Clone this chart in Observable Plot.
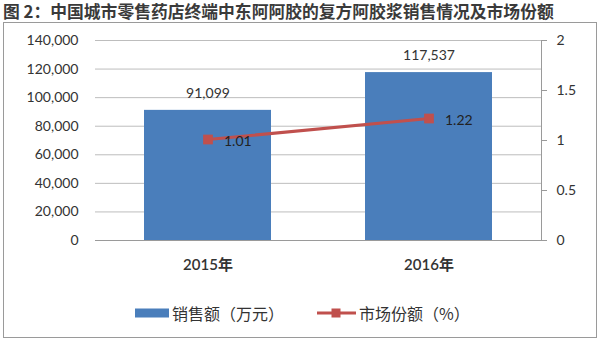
<!DOCTYPE html>
<html>
<head>
<meta charset="utf-8">
<script src="https://cdn.jsdelivr.net/npm/d3@7"></script>
<script src="https://cdn.jsdelivr.net/npm/@observablehq/plot@0.6"></script>
<style>
  html, body { margin: 0; padding: 0; background: #fff; }
  #wrap { position: relative; width: 600px; height: 343px; background: #fff; overflow: hidden; }
  #title { position: absolute; left: 3px; top: 1px; font: bold 16.8px "Noto Sans CJK SC", sans-serif; color: #3a3a3a; line-height: 20px; white-space: nowrap; }
  #box { position: absolute; left: 3px; top: 22px; width: 592px; height: 314px; border: 1px solid #9a9a9a; }
  #chart { position: absolute; left: 0; top: 0; }
  #legend { position: absolute; top: 301px; left: 0; width: 600px; height: 24px; font: 16px "Noto Sans CJK SC", sans-serif; color: #333; }
  #legend .item { position: absolute; top: 0; display: flex; align-items: center; height: 24px; white-space: nowrap; }
</style>
</head>
<body>
<div id="wrap">
  <div id="title"></div>
  <div id="box"></div>
  <div id="chart"></div>
  <div id="legend"></div>
</div>
<script>
const titleText = "图 2：中国城市零售药店终端中东阿阿胶的复方阿胶浆销售情况及市场份额";
const years = ["2015年", "2016年"];
const salesValues = [91099, 117537];      // 销售额（万元）
const shareValues = [1.01, 1.22];         // 市场份额（%）
const leftTicks = [0, 20000, 40000, 60000, 80000, 100000, 120000, 140000];
const rightTicks = [0, 0.5, 1, 1.5, 2];
const seriesNames = ["销售额（万元）", "市场份额（%）"];

const blue = "#4A7EBB";
const red = "#C0504D";
const k = 140000 / 2; // right axis (0–2) mapped onto left axis (0–140,000)

const data = years.map((y, i) => ({year: y, sales: salesValues[i], share: shareValues[i]}));

document.getElementById("title").textContent = titleText;

const numFont = "Lato, 'Noto Sans CJK SC', sans-serif";

const chart = Plot.plot({
  width: 600,
  height: 290,
  marginTop: 40,
  marginBottom: 50,
  marginLeft: 95,
  marginRight: 59,
  style: {background: "transparent", fontFamily: numFont, fontSize: "14px", color: "#333"},
  x: {domain: years, paddingInner: 0.425, paddingOuter: 0.22, label: null},
  y: {domain: [0, 140000], label: null},
  marks: [
    Plot.gridY(leftTicks, {stroke: "#bdbdbd", strokeOpacity: 1, strokeWidth: 1}),
    Plot.barY(data, {x: "year", y: "sales", fill: blue}),
    Plot.ruleY([0], {stroke: "#9a9a9a", strokeWidth: 1}),
    Plot.axisY({ticks: leftTicks, tickSize: 0, tickPadding: 17, tickFormat: d3.format(","), fontSize: 14, fill: "#333", label: null}),
    Plot.axisY({anchor: "right", ticks: rightTicks.map(d => d * k), tickSize: 5, tickPadding: 10, stroke: "#9a9a9a",
      tickFormat: d => String(+(d / k).toFixed(2)), fontSize: 14, fill: "#333", label: null}),
    Plot.frame({anchor: "right", stroke: "#9a9a9a"}),
    Plot.axisX({tickSize: 0, tickPadding: 19, fontSize: 15, fontWeight: 600, fill: "#333", label: null}),
    Plot.line(data, {x: "year", y: d => d.share * k, stroke: red, strokeWidth: 3}),
    Plot.dot(data, {x: "year", y: d => d.share * k, symbol: "square", r: 5.5, fill: red, stroke: null}),
    Plot.text(data, {x: "year", y: "sales", text: d => d3.format(",")(d.sales), dy: -17, fontSize: 14, fill: "#333"}),
    Plot.text(data, {x: "year", y: d => d.share * k, text: d => d.share.toFixed(2), dx: 16, dy: 2, textAnchor: "start", fontSize: 14, fill: "#222"})
  ]
});
document.getElementById("chart").appendChild(chart);

// legend
const legend = document.getElementById("legend");
function addItem(left, swatchSvg, label) {
  const div = document.createElement("div");
  div.className = "item";
  div.style.left = left + "px";
  div.innerHTML = swatchSvg + `<span style="margin-left:3px">${label}</span>`;
  legend.appendChild(div);
}
addItem(135, `<svg width="34" height="10"><rect x="0" y="0.5" width="34" height="9" fill="${blue}"/></svg>`, seriesNames[0]);
addItem(317, `<svg width="39" height="12"><line x1="0" y1="6" x2="39" y2="6" stroke="${red}" stroke-width="3"/><rect x="14.5" y="1.5" width="9" height="9" fill="${red}"/></svg>`, seriesNames[1]);
</script>
</body>
</html>
